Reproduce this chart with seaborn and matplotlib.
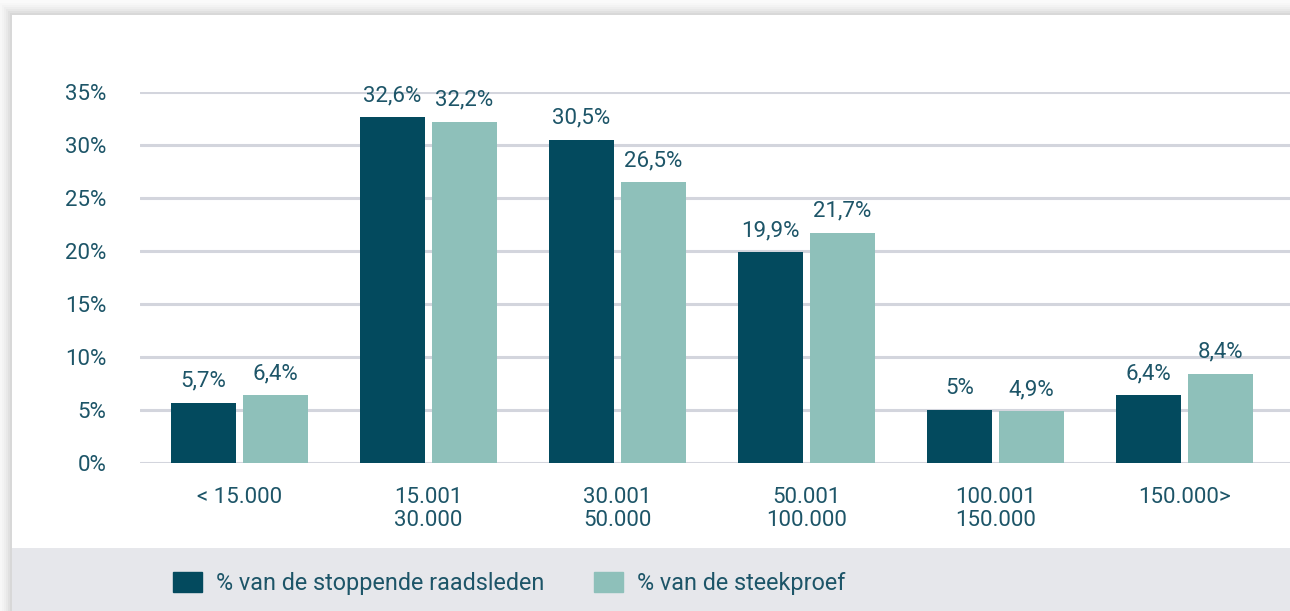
import matplotlib
matplotlib.use("Agg")
import matplotlib.pyplot as plt
import matplotlib.patches as mpatches
import seaborn as sns
import pandas as pd

categories = ["< 15.000", "15.001\n30.000", "30.001\n50.000", "50.001\n100.000", "100.001\n150.000", "150.000>"]
series_names = ["% van de stoppende raadsleden", "% van de steekproef"]
stoppende = [5.7, 32.6, 30.5, 19.9, 5.0, 6.4]
steekproef = [6.4, 32.2, 26.5, 21.7, 4.9, 8.4]
y_ticks = [0, 5, 10, 15, 20, 25, 30, 35]

DARK = "#034a5e"
LIGHT = "#8ec0ba"
TEXT = "#1d5568"
GRID = "#d3d5dd"
FS = 16
LFS = 16.8

df = pd.DataFrame({
    "cat": categories * 2,
    "series": [series_names[0]] * len(categories) + [series_names[1]] * len(categories),
    "value": stoppende + steekproef,
})

sns.set_style("white")
plt.rcParams["font.family"] = ["Roboto", "DejaVu Sans"]

W, H = 1290, 611
fig = plt.figure(figsize=(W / 100, H / 100), dpi=100, facecolor="#fafafa")

def px(x0, y0, x1, y1):
    return (x0 / W, 1 - y1 / H, (x1 - x0) / W, (y1 - y0) / H)

# soft shadow around panel
for i, a in enumerate([0.012, 0.016, 0.02, 0.025, 0.03, 0.035]):
    d = 12 - 2 * i
    l, b, w, h = px(12 - d, 15 - d, W + 20, H + 20)
    fig.patches.append(mpatches.Rectangle((l, b), w, h, transform=fig.transFigure,
                                          facecolor="black", alpha=a, edgecolor="none", zorder=0))
# white panel
l, b, w, h = px(12, 15, W, 548)
fig.patches.append(mpatches.Rectangle((l, b), w, h, transform=fig.transFigure,
                                      facecolor="white", edgecolor="none", zorder=1))
# legend band
l, b, w, h = px(12, 548, W, H)
fig.patches.append(mpatches.Rectangle((l, b), w, h, transform=fig.transFigure,
                                      facecolor="#e6e7eb", edgecolor="none", zorder=1))

ax = fig.add_axes(px(140, 92, W, 463))
ax.set_zorder(5)
ax.set_facecolor("none")
sns.barplot(data=df, x="cat", y="value", hue="series", order=categories,
            hue_order=series_names, palette=[DARK, LIGHT], width=0.762, gap=0.097,
            saturation=1, linewidth=0, ax=ax, legend=False)

ax.set_xlim(-0.526, 5.558)
ax.set_ylim(0, 35)
ax.set_yticks(y_ticks)
ax.set_yticklabels([f"{t}%" for t in y_ticks])
ax.yaxis.grid(True, color=GRID, linewidth=2.2)
ax.set_axisbelow(True)
for s in ax.spines.values():
    s.set_visible(False)
ax.set_xlabel("")
ax.set_ylabel("")
ax.tick_params(axis="y", length=0, pad=24, labelsize=FS, labelcolor=TEXT)
ax.tick_params(axis="x", length=0, pad=17, labelsize=FS, labelcolor=TEXT)
for lab in ax.get_xticklabels():
    lab.set_linespacing(1.12)

def fmt(v):
    s = f"{v:g}".replace(".", ",")
    return s + "%"

for cont, vals in zip(ax.containers, [stoppende, steekproef]):
    ax.bar_label(cont, labels=[fmt(v) for v in vals], padding=8, fontsize=FS,
                 color=TEXT, clip_on=False)

handles = [mpatches.Patch(color=DARK), mpatches.Patch(color=LIGHT)]
leg = fig.legend(handles, series_names, loc="center left", bbox_to_anchor=(173 / W, 1 - 583.5 / H),
                 ncol=2, frameon=False, fontsize=LFS, handlelength=1.25, handleheight=0.98,
                 handletextpad=0.6, columnspacing=2.1, borderpad=0, borderaxespad=0,
                 labelcolor=TEXT)
leg.set_zorder(6)

fig.savefig("out.png", dpi=100, facecolor=fig.get_facecolor())
